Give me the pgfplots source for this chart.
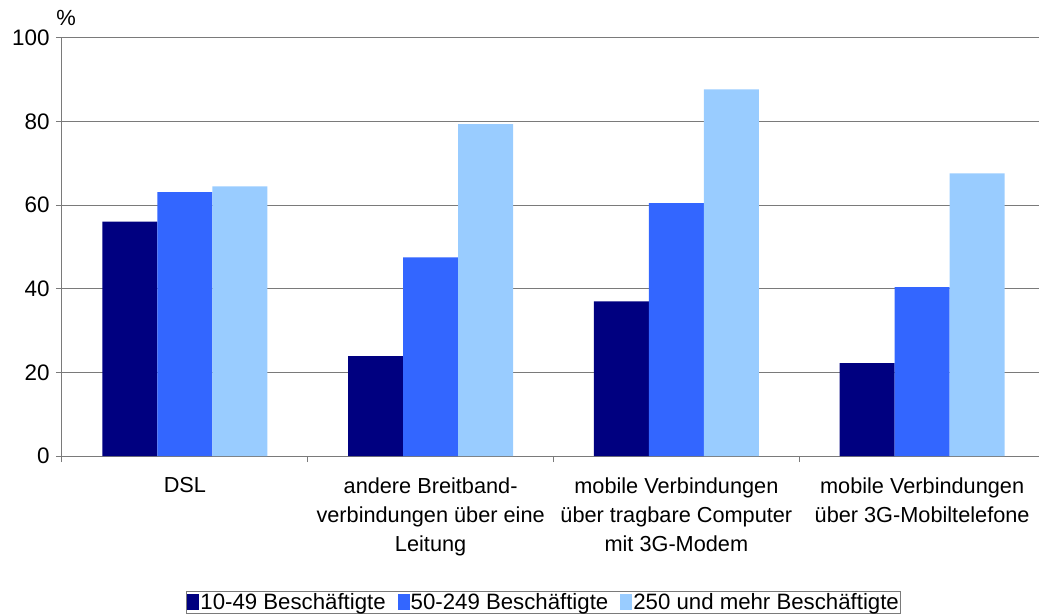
\documentclass[border=0pt]{standalone}
\usepackage{fontspec}
\setmainfont{Liberation Sans}
\usepackage{pgfplots}
\pgfplotsset{compat=1.18}
\definecolor{c1}{HTML}{000080}
\definecolor{c2}{HTML}{3366FF}
\definecolor{c3}{HTML}{99CCFF}
\definecolor{gridc}{HTML}{7A7A7A}
\begin{document}
\begin{tikzpicture}
\begin{axis}[
  at={(0,0)}, anchor=south west,
  scale only axis, width=983bp, height=418bp,
  xmin=-0.5, xmax=3.5, ymin=0, ymax=100,
  clip=false,
  axis x line*=bottom, axis y line*=left,
  axis line style={draw=gridc, line width=1bp},
  ybar, bar width=55bp, ybar=0pt,
  ytick={0,20,40,60,80,100},
  ymajorgrids, grid style={draw=gridc, line width=1bp},
  tick align=outside,
  major tick length=6bp,
  tick style={draw=gridc, line width=1bp},
  xtick={0,1,2,3},
  x tick style={draw=none},
  xticklabels={DSL,{andere Breitband-\\verbindungen über eine\\Leitung},{mobile Verbindungen\\über tragbare Computer\\mit 3G-Modem},{mobile Verbindungen\\über 3G-Mobiltelefone}},
  extra x ticks={-0.5,0.5,1.5,2.5,3.5},
  extra x tick labels={},
  extra x tick style={x tick style={draw=gridc, line width=1bp}, xmajorgrids=false},
  xticklabel style={align=center, yshift=-12bp, font=\fontsize{21.8}{29}\selectfont},
  yticklabel style={xshift=-3bp, font=\fontsize{22.5}{24}\selectfont},
  /pgf/number format/assume math mode=true,
  legend columns=3,
  legend style={at={(axis description cs:0.1261,-0.323)}, anchor=north west,
    draw=gridc, line width=1bp, inner sep=1bp, row sep=0pt,
    font=\fontsize{22.3}{22}\selectfont,
    nodes={inner xsep=1bp, inner ysep=1bp},
    /tikz/every even column/.append style={column sep=11bp}},
  legend image code/.code={\fill[#1] (0bp,-8bp) rectangle (12bp,8bp);},
]
\addplot[fill=c1, draw=none] coordinates {(0,56.1) (1,23.9) (2,37.0) (3,22.2)};
\addplot[fill=c2, draw=none] coordinates {(0,63.1) (1,47.5) (2,60.5) (3,40.4)};
\addplot[fill=c3, draw=none] coordinates {(0,64.5) (1,79.4) (2,87.7) (3,67.6)};
\legend{10-49 Beschäftigte,50-249 Beschäftigte,250 und mehr Beschäftigte}
\end{axis}
\node[font=\fontsize{22}{22}\selectfont] at (4bp,438bp) {\%};
\pgfresetboundingbox
\useasboundingbox (-62bp,-159bp) rectangle (977bp,456bp);
\end{tikzpicture}
\end{document}
